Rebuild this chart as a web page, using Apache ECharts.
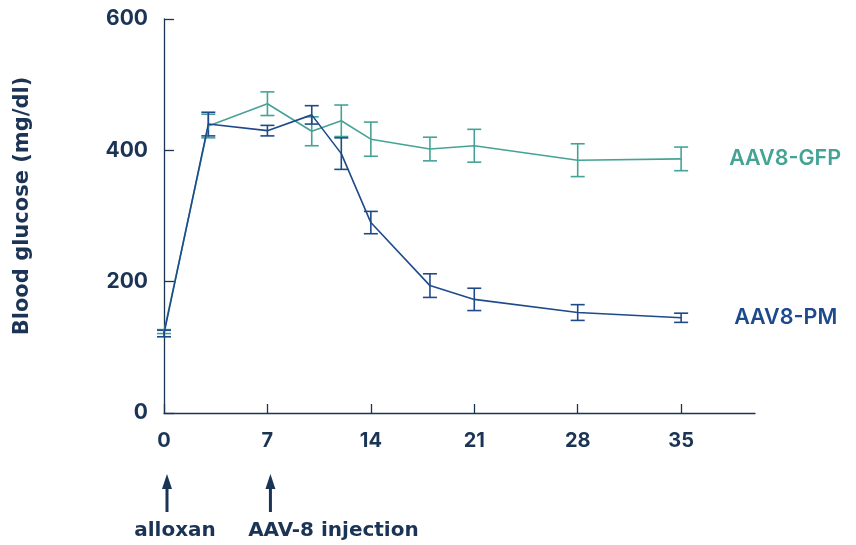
<!DOCTYPE html>
<html>
<head>
<meta charset="utf-8">
<script src="https://cdn.jsdelivr.net/npm/echarts@6/dist/echarts.min.js"></script>
<style>
html,body{margin:0;padding:0;background:#fff;}
#chart{width:856px;height:545px;}
</style>
</head>
<body>
<div id="chart"></div>
<script>
// Data (days, mg/dl)
var days = [0, 3, 7, 10, 12, 14, 18, 21, 28, 35];
var gfpMean = [124, 437, 471, 429, 445, 417, 402, 407, 385, 387];
var gfpErr  = [3, 18, 18, 22, 24, 26, 18, 25, 25, 18];
var pmMean  = [121, 440, 430, 454, 395, 290, 194, 173, 153, 145];
var pmErr   = [5, 18, 8, 14, 24, 17, 18, 17, 12, 7];
var xTicks = [0, 7, 14, 21, 28, 35];
var yTicks = [0, 200, 400, 600];
var seriesNames = ['AAV8-GFP', 'AAV8-PM'];
var annotations = [{day: 0, text: 'alloxan'}, {day: 7, text: 'AAV-8 injection'}];

var NAVY = '#1b3455';
var TEAL = '#45a396';
var BLUE = '#1e4a8b';
var FONT = 'Inter, "Noto Sans", sans-serif';
var WIDE = '"DejaVu Sans", Inter, sans-serif';

function pairs(xs, ys) { return xs.map(function (x, i) { return [x, ys[i]]; }); }
function errData(xs, m, e) { return xs.map(function (x, i) { return [x, m[i] - e[i], m[i] + e[i]]; }); }

function errSeries(name, data, color) {
  return {
    type: 'custom',
    name: name + '-err',
    data: data,
    z: 3,
    renderItem: function (params, api) {
      var x = api.value(0);
      var lo = api.coord([x, api.value(1)]);
      var hi = api.coord([x, api.value(2)]);
      var hw = 7;
      var st = {stroke: color, lineWidth: 1.6};
      return {
        type: 'group',
        children: [
          {type: 'line', shape: {x1: lo[0], y1: lo[1], x2: hi[0], y2: hi[1]}, style: st},
          {type: 'line', shape: {x1: lo[0] - hw, y1: lo[1], x2: lo[0] + hw, y2: lo[1]}, style: st},
          {type: 'line', shape: {x1: hi[0] - hw, y1: hi[1], x2: hi[0] + hw, y2: hi[1]}, style: st}
        ]
      };
    }
  };
}

var chart = echarts.init(document.getElementById('chart'));
var option = {
  animation: false,
  backgroundColor: '#ffffff',
  grid: {left: 164, top: 19, right: 101, bottom: 132, containLabel: false},
  xAxis: {
    type: 'value', min: 0, max: 40,
    axisLine: {show: true, lineStyle: {color: NAVY, width: 1.3}},
    axisTick: {show: true, inside: true, length: 9, lineStyle: {color: NAVY, width: 1.3}, customValues: xTicks},
    axisLabel: {color: NAVY, fontFamily: FONT, fontWeight: 'bold', fontSize: 20, margin: 18, customValues: xTicks},
    splitLine: {show: false}
  },
  yAxis: {
    type: 'value', min: 0, max: 600, interval: 200,
    name: 'Blood glucose (mg/dl)', nameLocation: 'middle', nameGap: 131, nameRotate: 90,
    nameTextStyle: {color: NAVY, fontFamily: WIDE, fontWeight: 'bold', fontSize: 21, padding: [0, 0, 0, 20]},
    axisLine: {show: true, lineStyle: {color: NAVY, width: 1.3}},
    axisTick: {show: true, inside: true, length: 10, lineStyle: {color: NAVY, width: 1.3}, customValues: yTicks},
    axisLabel: {color: NAVY, fontFamily: FONT, fontWeight: 'bold', fontSize: 21, margin: 16, customValues: yTicks},
    splitLine: {show: false}
  },
  series: [
    {
      type: 'line', name: seriesNames[0], data: pairs(days, gfpMean), symbol: 'none', z: 4,
      lineStyle: {color: TEAL, width: 1.6},
      endLabel: {show: true, formatter: seriesNames[0], color: TEAL, fontFamily: FONT, fontWeight: 600, fontSize: 21.5, distance: 48}
    },
    {
      type: 'line', name: seriesNames[1], data: pairs(days, pmMean), symbol: 'none', z: 5,
      lineStyle: {color: BLUE, width: 1.6},
      endLabel: {show: true, formatter: seriesNames[1], color: BLUE, fontFamily: FONT, fontWeight: 600, fontSize: 21.5, distance: 53}
    },
    errSeries(seriesNames[0], errData(days, gfpMean, gfpErr), TEAL),
    errSeries(seriesNames[1], errData(days, pmMean, pmErr), BLUE)
  ]
};
chart.setOption(option);

// Annotation arrows below the x axis, positioned via the axis scale
var graphics = [];
annotations.forEach(function (a, i) {
  var px = chart.convertToPixel({xAxisIndex: 0}, a.day) + 3;
  graphics.push({type: 'line', shape: {x1: px, y1: 512, x2: px, y2: 484}, style: {stroke: NAVY, lineWidth: 3}});
  graphics.push({type: 'polygon', shape: {points: [[px - 5, 489], [px + 5, 489], [px, 474]]}, style: {fill: NAVY}});
  graphics.push({type: 'text', x: i === 0 ? px + 8 : px + 63, y: 531,
    style: {text: a.text, fill: NAVY, font: 'bold 20px ' + WIDE, textAlign: 'center', textVerticalAlign: 'middle'}});
});
chart.setOption({graphic: graphics});
</script>
</body>
</html>
